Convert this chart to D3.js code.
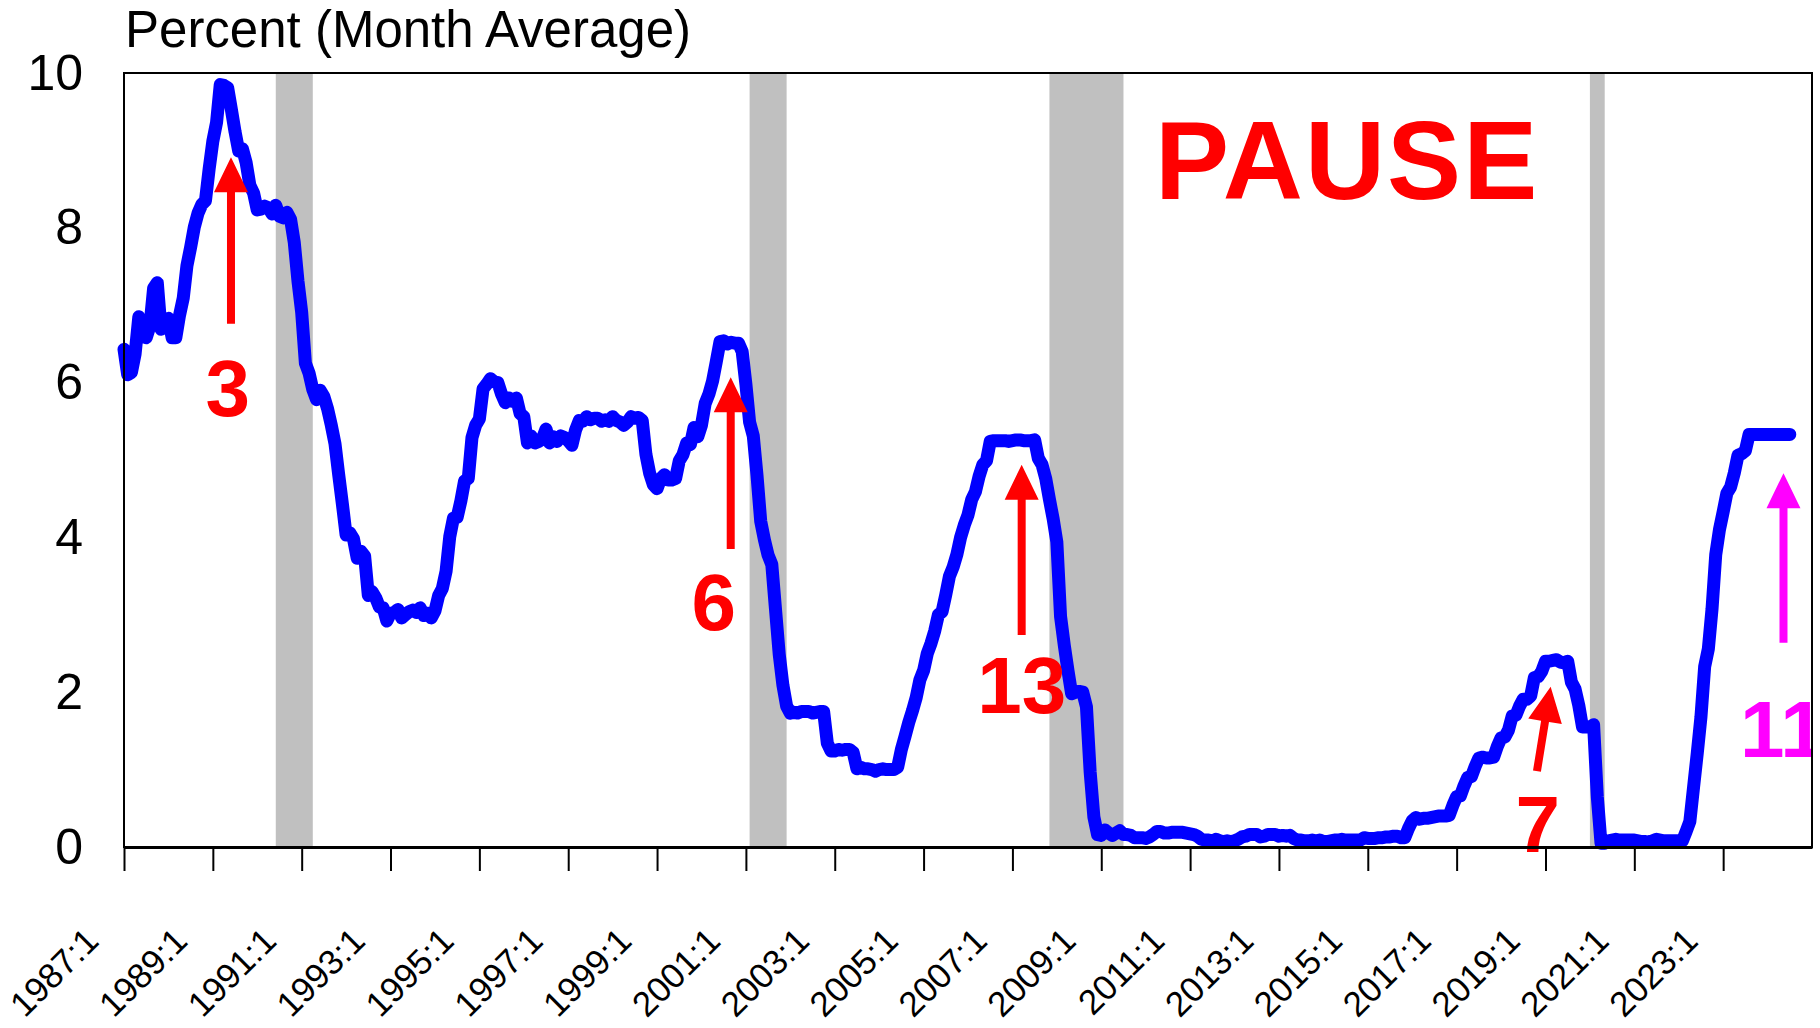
<!DOCTYPE html>
<html>
<head>
<meta charset="utf-8">
<script src="https://cdn.jsdelivr.net/npm/d3@7"></script>
<style>
  body { margin: 0; background: #fff; }
  svg text { font-family: 'Liberation Sans', Arial, sans-serif; }
</style>
</head>
<body>
<div id="root"></div>
<script>
'use strict';

// effective fed funds rate, monthly average, 1987:1 onwards
const startYear = 1987;
const fedFunds = [
  6.43, 6.10, 6.13, 6.37, 6.85, 6.73, 6.58, 6.73, 7.22, 7.29, 6.69, 6.77, // 1987
  6.83, 6.58, 6.58, 6.87, 7.09, 7.51, 7.75, 8.01, 8.19, 8.30, 8.35, 8.76, // 1988
  9.12, 9.36, 9.85, 9.84, 9.81, 9.53, 9.24, 8.99, 9.02, 8.84, 8.55, 8.45, // 1989
  8.23, 8.24, 8.28, 8.26, 8.18, 8.29, 8.15, 8.13, 8.20, 8.11, 7.81, 7.31, // 1990
  6.91, 6.25, 6.12, 5.91, 5.78, 5.90, 5.82, 5.66, 5.45, 5.21, 4.81, 4.43, // 1991
  4.03, 4.06, 3.98, 3.73, 3.82, 3.76, 3.25, 3.30, 3.22, 3.10, 3.09, 2.92, // 1992
  3.02, 3.03, 3.07, 2.96, 3.00, 3.04, 3.06, 3.03, 3.09, 2.99, 3.02, 2.96, // 1993
  3.05, 3.25, 3.34, 3.56, 4.01, 4.25, 4.26, 4.47, 4.73, 4.76, 5.29, 5.45, // 1994
  5.53, 5.92, 5.98, 6.05, 6.01, 6.00, 5.85, 5.74, 5.80, 5.76, 5.80, 5.60, // 1995
  5.56, 5.22, 5.31, 5.22, 5.24, 5.27, 5.40, 5.22, 5.30, 5.24, 5.31, 5.29, // 1996
  5.25, 5.19, 5.39, 5.51, 5.50, 5.56, 5.52, 5.54, 5.54, 5.50, 5.52, 5.50, // 1997
  5.56, 5.51, 5.49, 5.45, 5.49, 5.56, 5.54, 5.55, 5.51, 5.07, 4.83, 4.68, // 1998
  4.63, 4.76, 4.81, 4.74, 4.74, 4.76, 4.99, 5.07, 5.22, 5.20, 5.42, 5.30, // 1999
  5.45, 5.73, 5.85, 6.02, 6.27, 6.53, 6.54, 6.50, 6.52, 6.51, 6.51, 6.40, // 2000
  5.98, 5.49, 5.31, 4.80, 4.21, 3.97, 3.77, 3.65, 3.07, 2.49, 2.09, 1.82, // 2001
  1.73, 1.74, 1.73, 1.75, 1.75, 1.75, 1.73, 1.74, 1.75, 1.75, 1.34, 1.24, // 2002
  1.24, 1.26, 1.25, 1.26, 1.26, 1.22, 1.01, 1.03, 1.01, 1.01, 1.00, 0.98, // 2003
  1.00, 1.01, 1.00, 1.00, 1.00, 1.03, 1.26, 1.43, 1.61, 1.76, 1.93, 2.16, // 2004
  2.28, 2.50, 2.63, 2.79, 3.00, 3.04, 3.26, 3.50, 3.62, 3.78, 4.00, 4.16, // 2005
  4.29, 4.49, 4.59, 4.79, 4.94, 4.99, 5.24, 5.25, 5.25, 5.25, 5.25, 5.24, // 2006
  5.25, 5.26, 5.26, 5.25, 5.25, 5.25, 5.26, 5.02, 4.94, 4.76, 4.49, 4.24, // 2007
  3.94, 2.98, 2.61, 2.28, 1.98, 2.00, 2.01, 2.00, 1.81, 0.97, 0.39, 0.16, // 2008
  0.15, 0.22, 0.18, 0.15, 0.18, 0.21, 0.16, 0.16, 0.15, 0.12, 0.12, 0.12, // 2009
  0.11, 0.13, 0.16, 0.20, 0.20, 0.18, 0.18, 0.19, 0.19, 0.19, 0.19, 0.18, // 2010
  0.17, 0.16, 0.14, 0.10, 0.09, 0.09, 0.07, 0.10, 0.08, 0.07, 0.08, 0.07, // 2011
  0.08, 0.10, 0.13, 0.14, 0.16, 0.16, 0.16, 0.13, 0.14, 0.16, 0.16, 0.16, // 2012
  0.14, 0.15, 0.14, 0.15, 0.11, 0.09, 0.09, 0.08, 0.08, 0.09, 0.08, 0.09, // 2013
  0.07, 0.07, 0.08, 0.09, 0.09, 0.10, 0.09, 0.09, 0.09, 0.09, 0.09, 0.12, // 2014
  0.11, 0.11, 0.11, 0.12, 0.12, 0.13, 0.13, 0.14, 0.14, 0.12, 0.12, 0.24, // 2015
  0.34, 0.38, 0.36, 0.37, 0.37, 0.38, 0.39, 0.40, 0.40, 0.40, 0.41, 0.54, // 2016
  0.65, 0.66, 0.79, 0.90, 0.91, 1.04, 1.15, 1.16, 1.15, 1.15, 1.16, 1.30, // 2017
  1.41, 1.42, 1.51, 1.69, 1.70, 1.82, 1.91, 1.91, 1.95, 2.19, 2.20, 2.27, // 2018
  2.40, 2.40, 2.41, 2.42, 2.39, 2.38, 2.40, 2.13, 2.04, 1.83, 1.55, 1.55, // 2019
  1.55, 1.58, 0.65, 0.05, 0.05, 0.08, 0.09, 0.10, 0.09, 0.09, 0.09, 0.09, // 2020
  0.09, 0.08, 0.07, 0.07, 0.06, 0.08, 0.10, 0.09, 0.08, 0.08, 0.08, 0.08, // 2021
  0.08, 0.08, 0.20, 0.33, 0.77, 1.21, 1.68, 2.33, 2.56, 3.08, 3.78, 4.10, // 2022
  4.33, 4.57, 4.65, 4.83, 5.06, 5.08, 5.12, 5.33, 5.33, 5.33, 5.33, 5.33, // 2023
  5.33, 5.33, 5.33, 5.33, 5.33, 5.33, 5.33                                // 2024
];

const tickLabels = ['1987:1', '1989:1', '1991:1', '1993:1', '1995:1', '1997:1', '1999:1',
                    '2001:1', '2003:1', '2005:1', '2007:1', '2009:1', '2011:1', '2013:1',
                    '2015:1', '2017:1', '2019:1', '2021:1', '2023:1'];
const yTicks = [0, 2, 4, 6, 8, 10];

// shaded recessions (first and last month)
const recStart = ['1990:6', '2001:2', '2007:11', '2020:1'];
const recEnd   = ['1991:3', '2001:11', '2009:6', '2020:4'];

// number of hikes, arrows in (month index, percent)
const annText      = ['3', '6', '13', '7', '11'];
const annTextMonth = [28, 159.3, 242.5, 381.9, 448];
const annTextValue = [5.57, 2.80, 1.73, -0.06, 1.16];
const arrowTailMonth = [28.9, 163.9, 242.5, 381.7, 448.3];
const arrowTailValue = [6.76, 3.85, 2.74, 0.98, 2.64];
const arrowTipMonth  = [28.9, 163.9, 242.5, 385.4, 448.3];
const arrowTipValue  = [8.91, 6.07, 4.94, 2.07, 4.83];

const monthIndex = (s) => {
  const p = s.split(':');
  return (+p[0] - startYear) * 12 + (+p[1] - 1);
};

function arrowPath(x1, y1, x2, y2) {
  const len = Math.hypot(x2 - x1, y2 - y1),
        ux = (x2 - x1) / len, uy = (y2 - y1) / len,
        px = -uy, py = ux,
        sw = 4, hw = 17, hl = 35,
        bx = x2 - ux * hl, by = y2 - uy * hl;
  return d3.line()([
    [x1 + px * sw, y1 + py * sw],
    [bx + px * sw, by + py * sw],
    [bx + px * hw, by + py * hw],
    [x2, y2],
    [bx - px * hw, by - py * hw],
    [bx - px * sw, by - py * sw],
    [x1 - px * sw, y1 - py * sw]
  ]) + 'Z';
}

function draw() {
  const w = 1820, h = 1028,
        left = 124, right = 1812, top = 73, bottom = 847,

        svg = d3.select('#root')
                .append('svg')
                .attr('width', w)
                .attr('height', h),

        xScale = d3.scaleLinear()
                   .domain([0, 456])
                   .range([left, right]),

        yScale = d3.scaleLinear()
                   .domain([0, 10])
                   .range([bottom, top]);

  svg.append('clipPath')
     .attr('id', 'plot-clip')
     .append('rect')
     .attr('x', left).attr('y', top)
     .attr('width', right - left).attr('height', bottom - top + 20);

  // recessions
  svg.selectAll('rect.rec')
     .data(recStart)
     .enter()
     .append('rect')
     .attr('class', 'rec')
     .attr('x', (d) => xScale(monthIndex(d)))
     .attr('y', top)
     .attr('width', (d, i) => xScale(monthIndex(recEnd[i]) + 1) - xScale(monthIndex(d)))
     .attr('height', bottom - top)
     .attr('fill', '#c0c0c0');

  // rate line
  const line = d3.line()
                 .x((d, i) => xScale(i))
                 .y((d) => yScale(d));

  svg.append('path')
     .datum(fedFunds)
     .attr('d', line)
     .attr('fill', 'none')
     .attr('stroke', '#0000ff')
     .attr('stroke-width', 13)
     .attr('stroke-linejoin', 'round')
     .attr('stroke-linecap', 'round');

  // arrows + counts
  const annColor = (i) => (i === 4 ? '#ff00ff' : '#ff0000');

  svg.selectAll('path.arrow')
     .data(annText)
     .enter()
     .append('path')
     .attr('class', 'arrow')
     .attr('d', (d, i) => arrowPath(xScale(arrowTailMonth[i]), yScale(arrowTailValue[i]),
                                    xScale(arrowTipMonth[i]), yScale(arrowTipValue[i])))
     .attr('fill', (d, i) => annColor(i));

  svg.selectAll('text.count')
     .data(annText)
     .enter()
     .append('text')
     .attr('class', 'count')
     .attr('x', (d, i) => xScale(annTextMonth[i]))
     .attr('y', (d, i) => yScale(annTextValue[i]))
     .attr('text-anchor', 'middle')
     .attr('font-size', 80)
     .attr('font-weight', 'bold')
     .attr('fill', (d, i) => annColor(i))
     .attr('clip-path', 'url(#plot-clip)')
     .text((d) => d);

  svg.append('text')
     .attr('x', 1155)
     .attr('y', 199)
     .attr('font-size', 111)
     .attr('font-weight', 'bold')
     .attr('letter-spacing', 2)
     .attr('fill', '#ff0000')
     .text('PAUSE');

  // frame
  svg.append('rect')
     .attr('x', left).attr('y', top)
     .attr('width', right - left).attr('height', bottom - top)
     .attr('fill', 'none')
     .attr('stroke', '#000')
     .attr('stroke-width', 2);

  const xAxis = d3.axisBottom(xScale)
                  .tickValues(tickLabels.map(monthIndex))
                  .tickSize(24)
                  .tickSizeOuter(0)
                  .tickFormat((d, i) => tickLabels[i]);

  const gx = svg.append('g')
                .attr('id', 'x-axis')
                .attr('transform', 'translate(0, ' + bottom + ')')
                .call(xAxis);
  gx.select('.domain').attr('stroke-width', 3);
  gx.selectAll('.tick line').attr('stroke-width', 2);
  gx.selectAll('.tick text')
    .attr('x', 0).attr('y', 0).attr('dy', 0)
    .attr('transform', 'translate(-24, 96) rotate(-45)')
    .attr('text-anchor', 'end')
    .attr('font-size', 35)
    .attr('font-family', null)
    .attr('fill', '#000');

  const yAxis = d3.axisLeft(yScale)
                  .tickValues(yTicks)
                  .tickSize(0)
                  .tickPadding(41);

  const gy = svg.append('g')
                .attr('id', 'y-axis')
                .attr('transform', 'translate(' + left + ', 0)')
                .call(yAxis);
  gy.select('.domain').remove();
  gy.selectAll('.tick text')
    .attr('font-size', 50)
    .attr('font-family', null)
    .attr('fill', '#000');

  svg.append('text')
     .attr('x', 125)
     .attr('y', 47)
     .attr('font-size', 51)
     .attr('fill', '#000')
     .text('Percent (Month Average)');
}

draw();
</script>
</body>
</html>
